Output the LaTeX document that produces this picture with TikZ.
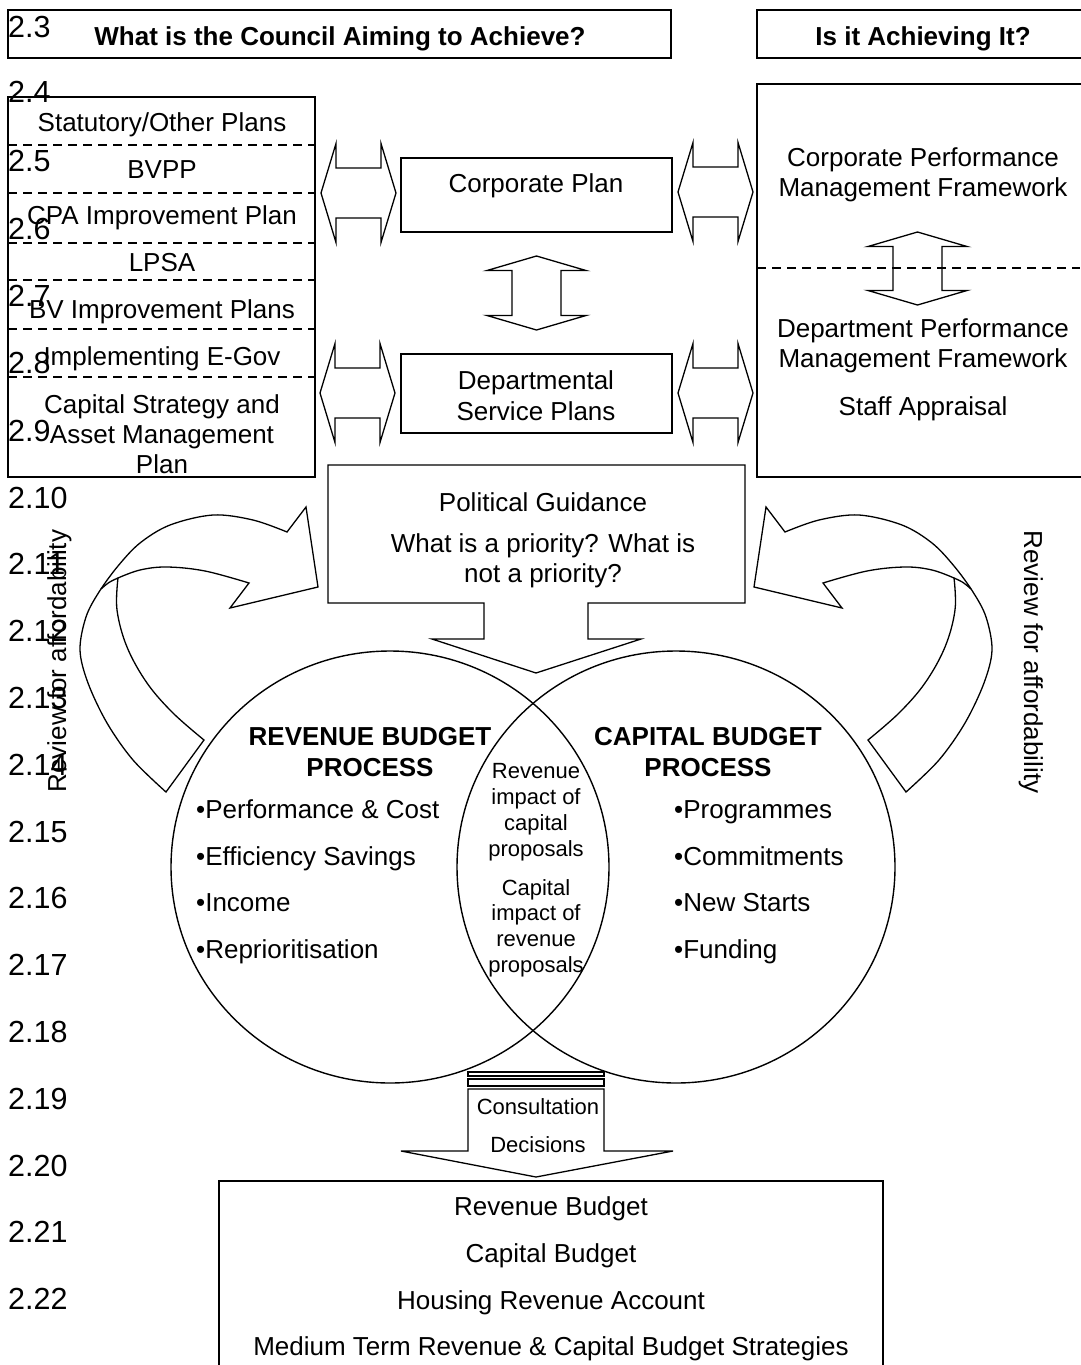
\documentclass[tikz,border=0pt]{standalone}
\usepackage{fontspec}
\setmainfont{Liberation Sans}
\newcommand\hdar[3]{%
  \draw[shp] (#1,#3) -- ({#1+15},{#3-49.5}) -- ({#1+15},{#3-25}) -- ({#2-15},{#3-25}) -- ({#2-15},{#3-49.5}) -- (#2,#3) -- ({#2-15},{#3+49.5}) -- ({#2-15},{#3+25}) -- ({#1+15},{#3+25}) -- ({#1+15},{#3+49.5}) -- cycle;}
\newcommand\vdar[3]{%
  \draw[shp] (#1,#2) -- ({#1+49.5},{#2+14.5}) -- ({#1+24.5},{#2+14.5}) -- ({#1+24.5},{#3-14.5}) -- ({#1+49.5},{#3-14.5}) -- (#1,#3) -- ({#1-49.5},{#3-14.5}) -- ({#1-24.5},{#3-14.5}) -- ({#1-24.5},{#2+14.5}) -- ({#1-49.5},{#2+14.5}) -- cycle;}
\newcommand\curvarr{%
  \path[shp] (166,792) -- plot[smooth, tension=0.55] coordinates {(166,792) (133,760) (107,723) (88,683) (80,650) (86,617) (99,592) (118,566) (140,543) (170,525) (213,515) (253,520) (287,532)}
    -- (306,507) -- (318,587) -- (230,608) -- (249,583)
    -- plot[smooth, tension=0.6] coordinates {(249,583) (205,571) (167,567) (140,570) (118,578)}
    -- plot[smooth, tension=0.6] coordinates {(118,578) (117,610) (127,647) (147,683) (173,713) (204,740)}
    -- cycle;
  \draw[line width=1.3pt] (118,578) .. controls (109,582) .. (101,589);}
\begin{document}
\begin{tikzpicture}[x=1pt,y=-1pt,
  boxn/.style={draw, line width=1.5pt, inner sep=0pt, outer sep=0pt, anchor=north west},
  shp/.style={draw, fill=white, line width=1.3pt, line join=miter},
  txt/.style={anchor=base, inner sep=0pt, font=\fontsize{26}{30}\selectfont},
  btxt/.style={anchor=base, inner sep=0pt, font=\fontsize{26}{30}\selectfont\bfseries},
  ltxt/.style={anchor=base west, inner sep=0pt, font=\fontsize{26}{30}\selectfont},
  stxt/.style={anchor=base, inner sep=0pt, font=\fontsize{22}{26}\selectfont},
  num/.style={anchor=base west, inner sep=0pt, font=\fontsize{30.5}{33}\selectfont},
  dline/.style={line width=1.8pt, dash pattern=on 9pt off 6pt}]
\fill[white] (0,0) rectangle (1080,1365);
\useasboundingbox (0,0) rectangle (1080,1365);

% header boxes
\node[boxn, minimum width=663pt, minimum height=48pt] (hdrL) at (8,10) {};
\node[boxn, minimum width=340pt, minimum height=48pt] (hdrR) at (757,10) {};
\node[btxt] (aim) at (340,45) {What is the Council Aiming to Achieve?};
\node[btxt] (ach) at (923,45) {Is it Achieving It?};

% plans box
\node[boxn, minimum width=307pt, minimum height=380pt] (plans) at (8,97) {};
\foreach \yy in {145,193,243,280,329,377} \draw[dline] (8,\yy) -- (315,\yy);
\node[txt] (p1) at (162,131) {Statutory/Other Plans};
\node[txt] (p2) at (162,178) {BVPP};
\node[txt] (p3) at (162,224) {CPA Improvement Plan};
\node[txt] (p4) at (162,271) {LPSA};
\node[txt] (p5) at (162,318) {BV Improvement Plans};
\node[txt] (p6) at (162,365) {Implementing E-Gov};
\node[txt] (p7a) at (162,413) {Capital Strategy and};
\node[txt] (p7b) at (162,443) {Asset Management};
\node[txt] (p7c) at (162,473) {Plan};

% corporate / departmental
\node[boxn, minimum width=271pt, minimum height=74pt] (corp) at (401,158) {};
\node[txt] (corpt) at (536,192) {Corporate Plan};
\node[boxn, minimum width=271pt, minimum height=79pt] (dept) at (401,354) {};
\node[txt] (dept1) at (536,389) {Departmental};
\node[txt] (dept2) at (536,420) {Service Plans};

% right box
\node[boxn, minimum width=340pt, minimum height=393pt] (perf) at (757,84) {};
\node[txt] (r1) at (923,166) {Corporate Performance};
\node[txt] (r2) at (923,196) {Management Framework};
\node[txt] (r3) at (923,337) {Department Performance};
\node[txt] (r4) at (923,367) {Management Framework};
\node[txt] (r5) at (923,415) {Staff Appraisal};

% block arrows
\hdar{321}{396}{193}
\hdar{320}{395}{393}
\hdar{678}{753}{192}
\hdar{678}{753}{393}
\vdar{536.5}{256}{330}
\vdar{917.5}{232}{305}
\draw[dline] (757,268) -- (1080,268);

% circles
\draw[line width=1.4pt] (390,867) ellipse [x radius=219, y radius=216];
\draw[line width=1.4pt] (676,867) ellipse [x radius=219, y radius=216];

% political guidance arrow
\draw[shp] (328,465) -- (745,465) -- (745,603) -- (588,603) -- (588,639) -- (641,639) -- (536,673) -- (432,639) -- (484,639) -- (484,603) -- (328,603) -- cycle;
\node[txt] (pg1) at (543,511) {Political Guidance};
\node[txt] (pg2) at (543,552) {What is a priority? What is};
\node[txt] (pg3) at (543,582) {not a priority?};

% curved arrows
\curvarr
\begin{scope}[xshift=1072pt, xscale=-1]
\curvarr
\end{scope}

% circle texts
\node[btxt] (rb1) at (370,745) {REVENUE BUDGET};
\node[btxt] (rb2) at (370,776) {PROCESS};
\node[btxt] (cb1) at (708,745) {CAPITAL BUDGET};
\node[btxt] (cb2) at (708,776) {PROCESS};
\node[ltxt] (rl1) at (196,818) {•Performance \& Cost};
\node[ltxt] (rl2) at (196,865) {•Efficiency Savings};
\node[ltxt] (rl3) at (196,911) {•Income};
\node[ltxt] (rl4) at (196,958) {•Reprioritisation};
\node[ltxt] (cl1) at (674,818) {•Programmes};
\node[ltxt] (cl2) at (674,865) {•Commitments};
\node[ltxt] (cl3) at (674,911) {•New Starts};
\node[ltxt] (cl4) at (674,958) {•Funding};
\node[stxt] (m1) at (536,778) {Revenue};
\node[stxt] (m2) at (536,804) {impact of};
\node[stxt] (m3) at (536,830) {capital};
\node[stxt] (m4) at (536,856) {proposals};
\node[stxt] (m5) at (536,895) {Capital};
\node[stxt] (m6) at (536,920) {impact of};
\node[stxt] (m7) at (536,946) {revenue};
\node[stxt] (m8) at (536,972) {proposals};

% consultation arrow
\draw[line width=1.3pt] (468,1072) rectangle (604,1076);
\draw[line width=1.3pt] (468,1079) rectangle (604,1086);
\draw[shp] (468,1089) -- (604,1089) -- (604,1151) -- (673,1151) -- (536,1177) -- (401,1151) -- (468,1151) -- cycle;
\node[stxt] (cons) at (538,1114) {Consultation};
\node[stxt] (deci) at (538,1152) {Decisions};

% bottom box
\node[boxn, minimum width=664pt, minimum height=210pt] (budg) at (219,1181) {};
\node[txt] (b1) at (551,1215) {Revenue Budget};
\node[txt] (b2) at (551,1262) {Capital Budget};
\node[txt] (b3) at (551,1309) {Housing Revenue Account};
\node[txt] (b4) at (551,1355) {Medium Term Revenue \& Capital Budget Strategies};

% review labels
\node[txt, rotate=90] (revL) at (66,661) {Review for affordability};
\node[txt, rotate=-90] (revR) at (1024,662) {Review for affordability};

% paragraph numbers
\node[num] (n3) at (8,37) {2.3};
\node[num] (n4) at (8,102) {2.4};
\node[num] (n5) at (8,171) {2.5};
\node[num] (n6) at (8,239) {2.6};
\node[num] (n7) at (8,306) {2.7};
\node[num] (n8) at (8,373) {2.8};
\node[num] (n9) at (8,441) {2.9};
\foreach \k [count=\i from 0] in {10,...,22}
  \node[num] (n\k) at (8,{508+\i*66.8}) {2.\k};
\end{tikzpicture}
\end{document}
